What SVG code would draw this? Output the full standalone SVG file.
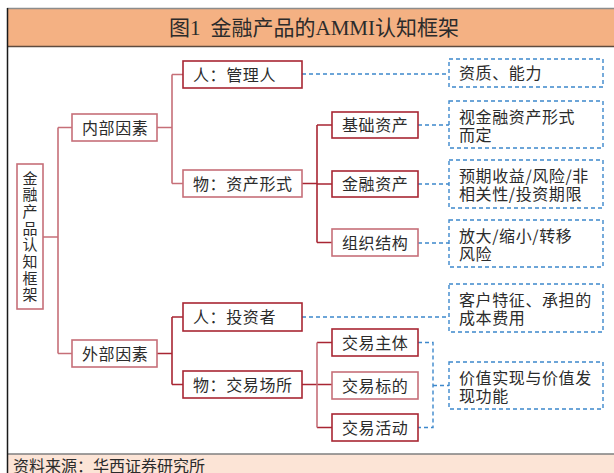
<svg xmlns="http://www.w3.org/2000/svg" width="614" height="473" viewBox="0 0 614 473">
<style>
.t{font-family:"Noto Sans CJK SC","Noto Sans",sans-serif;font-size:16px;fill:#2b2b2b;letter-spacing:0.6px}
.bx{fill:#fff;stroke:#a82633;stroke-width:1.6}
.bxl{fill:#fff;stroke:#c66f78;stroke-width:1.6}
.db{fill:#fff;stroke:#3d88cc;stroke-width:1.4;stroke-dasharray:4 3}
.cl{fill:none;stroke:#c66f78;stroke-width:1.6}
.cd{fill:none;stroke:#a82633;stroke-width:1.6}
.cb{fill:none;stroke:#3d88cc;stroke-width:1.4;stroke-dasharray:4 3}
</style>
<rect x="0" y="0" width="614" height="473" fill="#fff"/>
<g id="header">
<rect x="7" y="9" width="607" height="37" fill="#f4b183"/>
<line x1="7" y1="8.5" x2="614" y2="8.5" stroke="#8c8c8c" stroke-width="1.5"/>
<line x1="7" y1="46.5" x2="614" y2="46.5" stroke="#5e4b3f" stroke-width="1.5"/>
<text x="314" y="35" text-anchor="middle" style="font-family:'Liberation Serif','Noto Sans CJK SC',serif;font-size:21px;fill:#2b2b2b">图1<tspan dx="10">金融产品的AMMI认知框架</tspan></text>
</g>
<g id="footer">
<rect x="7" y="454" width="607" height="19" fill="#fce4d6"/>
<line x1="7" y1="454" x2="614" y2="454" stroke="#7f7f7f" stroke-width="1.5"/>
<text x="13" y="472" class="t" style="letter-spacing:0">资料来源：华西证券研究所</text>
</g>
<line x1="7.5" y1="8" x2="7.5" y2="473" stroke="#1a1a1a" stroke-width="1.5"/>
<g id="connectors">
<path class="cl" d="M43 237H58M58 127.5V353.5M58 127.5H72M58 353.5H72"/>
<path class="cl" d="M157 127.5H172M172 74.5V183.5M172 74.5H183M172 183.5H183"/>
<path class="cd" d="M157 353.5H172M172 317V384.5M172 317H183M172 384.5H183"/>
<path class="cd" d="M302 183.5H317M317 125V242.5M317 125H332M317 184H332M317 242.5H332"/>
<path class="cd" d="M302 384.5H317H332M317 342.5H332M317 427.5H332"/>
<path class="cl" d="M317 342.5V427.5"/>
<path class="cb" d="M302 74H449M418 125H449M418 184H449M418 243H449M302 317H449"/>
<path class="cb" d="M418 342.5H433V427.5H418M433 385.5H449"/>
</g>
<g id="root">
<rect class="bxl" x="17" y="164" width="26" height="145"/>
<text class="t" text-anchor="middle" style="letter-spacing:0;font-size:15px"><tspan x="30" y="183.5">金</tspan><tspan x="30" y="200.2">融</tspan><tspan x="30" y="216.9">产</tspan><tspan x="30" y="233.6">品</tspan><tspan x="30" y="250.3">认</tspan><tspan x="30" y="267">知</tspan><tspan x="30" y="283.7">框</tspan><tspan x="30" y="300.4">架</tspan></text>
</g>
<g id="n_inner"><rect class="bxl" x="72" y="114" width="85" height="27"/><text class="t" x="82" y="133.5">内部因素</text></g>
<g id="n_outer"><rect class="bxl" x="72" y="340" width="85" height="27"/><text class="t" x="82" y="359.5">外部因素</text></g>
<g id="n_mgr"><rect class="bx" x="183" y="61" width="119" height="27"/><text class="t" x="193" y="80.5">人：管理人</text></g>
<g id="n_asset"><rect class="bxl" x="183" y="170" width="119" height="27"/><text class="t" x="193" y="189.5">物：资产形式</text></g>
<g id="n_inv"><rect class="bx" x="183" y="303" width="119" height="28"/><text class="t" x="193" y="323">人：投资者</text></g>
<g id="n_venue"><rect class="bx" x="183" y="371" width="119" height="27"/><text class="t" x="193" y="390.5">物：交易场所</text></g>
<g id="n_base"><rect class="bx" x="332" y="112" width="86" height="26"/><text class="t" x="342" y="131">基础资产</text></g>
<g id="n_fin"><rect class="bx" x="332" y="171" width="86" height="26"/><text class="t" x="342" y="190">金融资产</text></g>
<g id="n_org"><rect class="bxl" x="332" y="229" width="86" height="27"/><text class="t" x="342" y="248.5">组织结构</text></g>
<g id="n_subj"><rect class="bx" x="332" y="329" width="86" height="27"/><text class="t" x="342" y="348.5">交易主体</text></g>
<g id="n_obj"><rect class="bxl" x="332" y="372" width="86" height="27"/><text class="t" x="342" y="391.5">交易标的</text></g>
<g id="n_act"><rect class="bx" x="332" y="414" width="86" height="27"/><text class="t" x="342" y="433.5">交易活动</text></g>
<g id="r_ability"><rect class="db" x="449" y="59" width="154" height="28"/><text class="t" x="459" y="79">资质、能力</text></g>
<g id="r_form"><rect class="db" x="449" y="101" width="154" height="47"/><text class="t"><tspan x="459" y="123">视金融资产形式</tspan><tspan x="459" y="141">而定</tspan></text></g>
<g id="r_return"><rect class="db" x="449" y="160" width="154" height="48"/><text class="t"><tspan x="459" y="182">预期收益/风险/非</tspan><tspan x="459" y="200">相关性/投资期限</tspan></text></g>
<g id="r_risk"><rect class="db" x="449" y="220" width="154" height="47"/><text class="t"><tspan x="459" y="242">放大/缩小/转移</tspan><tspan x="459" y="260">风险</tspan></text></g>
<g id="r_client"><rect class="db" x="449" y="284" width="154" height="48"/><text class="t"><tspan x="459" y="306">客户特征、承担的</tspan><tspan x="459" y="324">成本费用</tspan></text></g>
<g id="r_value"><rect class="db" x="449" y="362" width="154" height="47"/><text class="t"><tspan x="459" y="384">价值实现与价值发</tspan><tspan x="459" y="402">现功能</tspan></text></g>
</svg>
